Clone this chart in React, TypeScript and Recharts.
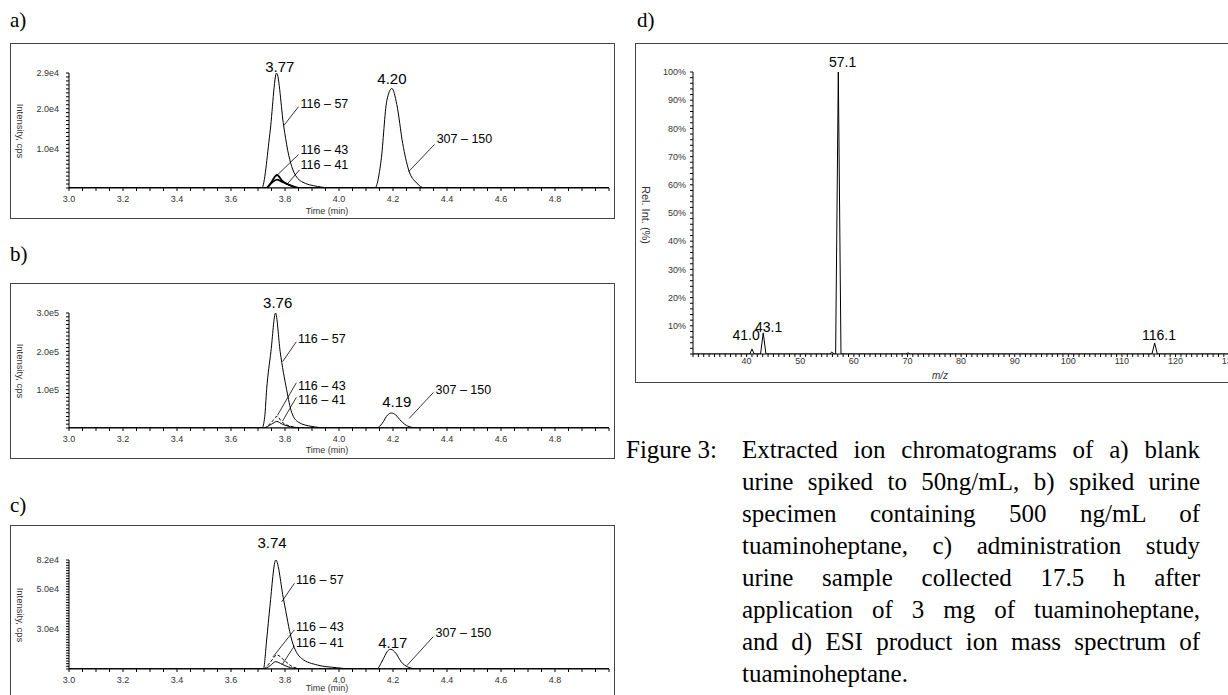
import { LineChart, Line, XAxis, YAxis, ReferenceLine, ReferenceDot } from "recharts";

const SANS = '"Liberation Sans", Arial, sans-serif';
const SERIF = '"Liberation Serif", "Times New Roman", serif';

type Pt = { t: number; v: number };
const pts = (arr: number[][]): Pt[] => arr.map(([t, v]) => ({ t, v }));

// ---- panel a: blank urine spiked 50 ng/mL ----
const a57 = pts([[3.0, 0], [3.714, 0], [3.744, 13700], [3.769, 29000], [3.795, 15700], [3.81, 9500], [3.825, 5400], [3.861, 1640], [3.92, 400], [3.978, 0], [5.0, 0]]);
const a43 = pts([[3.0, 0], [3.73, 0], [3.75, 1500], [3.77, 3300], [3.79, 1800], [3.82, 600], [3.85, 0], [5.0, 0]]);
const a41 = pts([[3.0, 0], [3.73, 0], [3.75, 1200], [3.77, 2100], [3.79, 1500], [3.82, 700], [3.86, 0], [5.0, 0]]);
const a150 = pts([[3.0, 0], [4.133, 0], [4.156, 7000], [4.177, 22000], [4.196, 25100], [4.214, 21100], [4.236, 11200], [4.258, 4550], [4.288, 1240], [4.317, 0], [5.0, 0]]);
const aYTicks = [10000, 20000, 29000];
const aYLabels = ["1.0e4", "2.0e4", "2.9e4"];
const aPeaks = [{ text: "3.77", t: 3.781, v: 30700 }, { text: "4.20", t: 4.196, v: 27600 }];
const aTraces = [{ text: "116 – 57", t: 3.854, v: 21300 }, { text: "116 – 43", t: 3.854, v: 9700 }, { text: "116 – 41", t: 3.854, v: 5800 }, { text: "307 – 150", t: 4.358, v: 12400 }];
const aLeaders = [[3.795, 15700, 3.85, 20500], [3.766, 2900, 3.85, 8450], [3.806, 830, 3.854, 4560], [4.258, 4140, 4.354, 11000]];

// ---- panel b: spiked urine 500 ng/mL ----
const b57 = pts([[3.0, 0], [3.715, 0], [3.725, 30000], [3.732, 100000], [3.748, 200000], [3.765, 300000], [3.782, 200000], [3.806, 100000], [3.825, 40000], [3.85, 15000], [3.9, 4000], [3.96, 0], [5.0, 0]]);
const b43 = pts([[3.0, 0], [3.72, 0], [3.75, 15000], [3.77, 30000], [3.79, 15000], [3.83, 3000], [3.87, 0], [5.0, 0]]);
const b41 = pts([[3.0, 0], [3.72, 0], [3.75, 10000], [3.77, 17000], [3.79, 10000], [3.83, 2000], [3.87, 0], [5.0, 0]]);
const b150 = pts([[3.0, 0], [4.14, 0], [4.16, 12000], [4.18, 34000], [4.195, 39000], [4.21, 34000], [4.23, 18000], [4.255, 5000], [4.29, 0], [5.0, 0]]);
const bYTicks = [100000, 200000, 300000];
const bYLabels = ["1.0e5", "2.0e5", "3.0e5"];
const bPeaks = [{ text: "3.76", t: 3.773, v: 326000 }, { text: "4.19", t: 4.214, v: 68600 }];
const bTraces = [{ text: "116 – 57", t: 3.844, v: 234000 }, { text: "116 – 43", t: 3.844, v: 112000 }, { text: "116 – 41", t: 3.844, v: 73000 }, { text: "307 – 150", t: 4.354, v: 99000 }];
const bLeaders = [[3.791, 173000, 3.842, 225000], [3.772, 33000, 3.842, 118000], [3.791, 18000, 3.842, 80000], [4.26, 25000, 4.35, 93000]];

// ---- panel c: administration study urine ----
const c57 = pts([[3.0, 0], [3.72, 0], [3.732, 21800], [3.744, 46800], [3.766, 82000], [3.795, 52000], [3.825, 21800], [3.861, 8000], [3.92, 3000], [3.99, 1000], [4.05, 0], [5.0, 0]]);
const c43 = pts([[3.0, 0], [3.72, 0], [3.745, 5000], [3.77, 10500], [3.8, 6000], [3.83, 1500], [3.87, 0], [5.0, 0]]);
const c41 = pts([[3.0, 0], [3.72, 0], [3.745, 2500], [3.765, 5500], [3.79, 3500], [3.82, 1000], [3.86, 0], [5.0, 0]]);
const c150 = pts([[3.0, 0], [4.14, 0], [4.16, 6000], [4.18, 13500], [4.192, 14800], [4.21, 12000], [4.23, 5500], [4.255, 1500], [4.29, 0], [5.0, 0]]);
const cYTicks = [30000, 60000, 82000];
const cYLabels = ["3.0e4", "5.0e4", "8.2e4"];
const cPeaks = [{ text: "3.74", t: 3.752, v: 94800 }, { text: "4.17", t: 4.199, v: 19800 }];
const cTraces = [{ text: "116 – 57", t: 3.837, v: 67000 }, { text: "116 – 43", t: 3.837, v: 31800 }, { text: "116 – 41", t: 3.837, v: 19800 }, { text: "307 – 150", t: 4.354, v: 27300 }];
const cLeaders = [[3.788, 50600, 3.835, 64500], [3.755, 9000, 3.835, 29500], [3.79, 3500, 3.835, 17500], [4.251, 2500, 4.349, 24300]];

// ---- panel d: product ion spectrum ----
const dSpec = [[30, 0], [40.6, 0], [41.0, 1.8], [41.4, 0], [42.6, 0], [43.1, 7.5], [43.6, 0], [55.5, 0], [55.9, 0.7], [56.3, 0], [56.6, 0], [57.1, 100], [57.6, 0], [69.7, 0], [70.1, 0.4], [70.5, 0], [115.6, 0], [116.1, 3.9], [116.6, 0], [135, 0]].map(([mz, rel]) => ({ mz, rel }));
const dLabels = [{ text: "57.1", mz: 57.9, rel: 103.5 }, { text: "43.1", mz: 44.1, rel: 9.6 }, { text: "41.0", mz: 39.9, rel: 6.7 }, { text: "116.1", mz: 116.9, rel: 6.7 }];
const dXLabels = [40, 50, 60, 70, 80, 90, 100, 110, 120, 130];
const dYLabels = [10, 20, 30, 40, 50, 60, 70, 80, 90, 100];

const xMajor = [3.0, 3.2, 3.4, 3.6, 3.8, 4.0, 4.2, 4.4, 4.6, 4.8];
const xTicks = Array.from({ length: 41 }, (_, i) => Math.round((3 + i * 0.05) * 100) / 100);

const captionLines = [
  "Extracted ion chromatograms of a) blank",
  "urine spiked to 50ng/mL, b) spiked urine",
  "specimen containing 500 ng/mL of",
  "tuaminoheptane, c) administration study",
  "urine sample collected 17.5 h after",
  "application of 3 mg of tuaminoheptane,",
  "and d) ESI product ion mass spectrum of",
  "tuaminoheptane.",
];

const panels = [
  { name: "a)", top: 43, labelY: 20, timeY: 168, plotTop: 30, plotBottom: 145, yMax: 29000, yStep: 1000, yTicks: aYTicks, yLabels: aYLabels,
    series: [{ d: a57, w: 1 }, { d: a150, w: 1 }, { d: a43, w: 1.8 }, { d: a41, w: 1.6 }], peaks: aPeaks, traces: aTraces, leaders: aLeaders },
  { name: "b)", top: 283, labelY: 254, timeY: 167, plotTop: 30, plotBottom: 145, yMax: 300000, yStep: 10000, yTicks: bYTicks, yLabels: bYLabels,
    series: [{ d: b57, w: 1 }, { d: b150, w: 1 }, { d: b43, w: 1, dash: "3 2" }, { d: b41, w: 1 }], peaks: bPeaks, traces: bTraces, leaders: bLeaders },
  { name: "c)", top: 525, labelY: 505, timeY: 163, plotTop: 35, plotBottom: 144, yMax: 82000, yStep: 2000, yTicks: cYTicks, yLabels: cYLabels,
    series: [{ d: c57, w: 1 }, { d: c150, w: 1 }, { d: c43, w: 1, dash: "3 2" }, { d: c41, w: 1 }], peaks: cPeaks, traces: cTraces, leaders: cLeaders },
];

const tickStyle = { fontSize: 9, fill: "#333", fontFamily: SANS };

function rotated(text: string, cx: number, cy: number, size: number) {
  return (
    <div style={{ position: "absolute", left: cx, top: cy, transform: "translate(-50%, -50%) rotate(90deg)", whiteSpace: "nowrap", fontFamily: SANS, fontSize: size, color: "#333", lineHeight: 1 }}>
      {text}
    </div>
  );
}

function Chrom({ p }: { p: any }) {
  const yTicks = Array.from({ length: Math.round(p.yMax / p.yStep) + 1 }, (_, i) => i * p.yStep);
  const fmtY = (v: number) => {
    const i = p.yTicks.findIndex((m: number) => Math.abs(m - v) < 1e-6);
    return i >= 0 ? p.yLabels[i] : "";
  };
  const fmtX = (v: number) => (xMajor.some((m) => Math.abs(m - v) < 1e-6) ? v.toFixed(1) : "");
  return (
    <>
      <div style={{ position: "absolute", left: 10, top: p.labelY - 12, fontFamily: SERIF, fontSize: 21, lineHeight: "24px" }}>{p.name}</div>
      <div style={{ position: "absolute", left: 10, top: p.top, width: 605, height: 176, border: "1px solid #444", boxSizing: "border-box" }} />
      <div style={{ position: "absolute", left: 10, top: p.top }}>
        <LineChart width={605} height={176} margin={{ top: p.plotTop, right: 6, bottom: 0, left: 0 }}>
          <XAxis type="number" dataKey="t" domain={[3, 5]} ticks={xTicks} interval={0} tickFormatter={fmtX} allowDataOverflow
            height={176 - p.plotBottom} tickSize={3} tickMargin={5} tick={tickStyle} axisLine={{ stroke: "#000" }} tickLine={{ stroke: "#000" }} />
          <YAxis type="number" domain={[0, p.yMax]} ticks={yTicks} interval={0} tickFormatter={fmtY} allowDataOverflow
            width={59} tickSize={3} tickMargin={7} tick={tickStyle} axisLine={{ stroke: "#000" }} tickLine={{ stroke: "#000" }} />
          {p.series.map((s: any, i: number) => (
            <Line key={i} data={s.d} dataKey="v" type="monotone" stroke="#000" strokeWidth={s.w} strokeDasharray={s.dash}
              dot={false} activeDot={false} isAnimationActive={false} />
          ))}
          {p.leaders.map((l: number[], i: number) => (
            <ReferenceLine key={"l" + i} segment={[{ x: l[0], y: l[1] }, { x: l[2], y: l[3] }]} stroke="#000" strokeWidth={0.8} ifOverflow="visible" />
          ))}
          {p.peaks.map((k: any, i: number) => (
            <ReferenceDot key={"p" + i} x={k.t} y={k.v} r={1} fill="none" stroke="none" ifOverflow="visible"
              label={{ value: k.text, position: "center", fontSize: 15, fill: "#000", fontFamily: SANS }} />
          ))}
          {p.traces.map((k: any, i: number) => (
            <ReferenceDot key={"t" + i} x={k.t} y={k.v} r={1} fill="none" stroke="none" ifOverflow="visible"
              label={{ value: k.text, position: "right", offset: 0, fontSize: 12.5, fill: "#000", fontFamily: SANS }} />
          ))}
        </LineChart>
      </div>
      {rotated("Intensity, cps", 20, p.top + (p.plotTop + p.plotBottom) / 2, 9.5)}
      <div style={{ position: "absolute", left: 327, top: p.top + p.timeY, transform: "translate(-50%, -50%)", fontFamily: SANS, fontSize: 9, lineHeight: "10px", color: "#333", whiteSpace: "nowrap" }}>Time (min)</div>
    </>
  );
}

function Spectrum() {
  const xTicksD = Array.from({ length: 106 }, (_, i) => 30 + i);
  const yTicksD = Array.from({ length: 51 }, (_, i) => i * 2);
  return (
    <>
      <div style={{ position: "absolute", left: 637, top: 8, fontFamily: SERIF, fontSize: 21, lineHeight: "24px" }}>d)</div>
      <div style={{ position: "absolute", left: 635, top: 43, width: 640, height: 340, border: "1px solid #444", boxSizing: "border-box" }} />
      <div style={{ position: "absolute", left: 635, top: 43 }}>
        <LineChart width={630} height={340} margin={{ top: 29, right: 9, bottom: 0, left: 0 }}>
          <XAxis type="number" dataKey="mz" domain={[30, 135]} ticks={xTicksD} interval={0} allowDataOverflow
            tickFormatter={(v: number) => (dXLabels.includes(v) ? String(v) : "")}
            height={29} tickSize={3} tickMargin={1} tick={tickStyle} axisLine={{ stroke: "#000" }} tickLine={{ stroke: "#000" }} />
          <YAxis type="number" domain={[0, 100]} ticks={yTicksD} interval={0} allowDataOverflow
            tickFormatter={(v: number) => (dYLabels.includes(v) ? v + "%" : "")}
            width={58} tickSize={3} tickMargin={4} tick={tickStyle} axisLine={{ stroke: "#000" }} tickLine={{ stroke: "#000" }} />
          <Line data={dSpec} dataKey="rel" type="linear" stroke="#000" strokeWidth={1} dot={false} activeDot={false} isAnimationActive={false} />
          {dLabels.map((k, i) => (
            <ReferenceDot key={i} x={k.mz} y={k.rel} r={1} fill="none" stroke="none" ifOverflow="visible"
              label={{ value: k.text, position: "center", fontSize: 14, fill: "#000", fontFamily: SANS }} />
          ))}
        </LineChart>
      </div>
      {rotated("Rel. Int. (%)", 645, 215, 11)}
      <div style={{ position: "absolute", left: 940, top: 375, transform: "translate(-50%, -50%)", fontFamily: SANS, fontSize: 10, fontStyle: "italic", color: "#333" }}>m/z</div>
    </>
  );
}

export default function App() {
  return (
    <div style={{ position: "fixed", left: 0, top: 0, width: 1228, height: 695, overflow: "hidden", background: "#fff" }}>
      {panels.map((p) => (
        <Chrom key={p.name} p={p} />
      ))}
      <Spectrum />
      <div style={{ position: "absolute", left: 626, top: 434, fontFamily: SERIF, fontSize: 25, lineHeight: "32px" }}>Figure 3:</div>
      {captionLines.map((line, i) => (
        <div key={i} style={{ position: "absolute", left: 742, top: 434 + i * 32, width: 458, fontFamily: SERIF, fontSize: 25, lineHeight: "32px",
          textAlign: "justify", textAlignLast: i < captionLines.length - 1 ? "justify" : "left", whiteSpace: "nowrap" }}>
          {line}
        </div>
      ))}
    </div>
  );
}
